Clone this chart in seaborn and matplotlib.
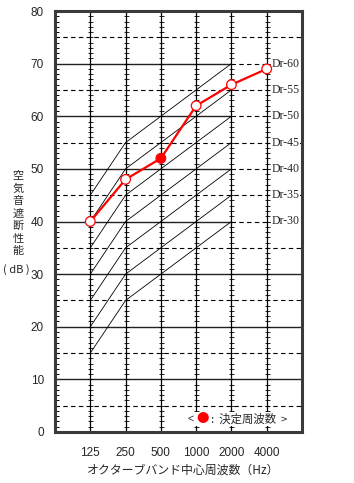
import numpy as np
import pandas as pd
import matplotlib
matplotlib.use("Agg")
import matplotlib.pyplot as plt
import seaborn as sns
from matplotlib.ticker import MultipleLocator
from matplotlib.patches import Rectangle

# ---- data ----
freqs = ["125", "250", "500", "1000", "2000", "4000"]
tl_values = [40, 48, 52, 62, 66, 69]
decided = [False, False, True, False, False, False]
dr_grades = [30, 35, 40, 45, 50, 55, 60]
dr_offsets = [-15, -5, 0, 5, 10]          # 125..2000 Hz relative to grade
y_ticks = [0, 10, 20, 30, 40, 50, 60, 70, 80]

sns.set_style("white")
plt.rcParams["font.family"] = ["Noto Sans CJK JP", "DejaVu Sans"]

W, H = 354, 483
fig = plt.figure(figsize=(W / 100, H / 100), dpi=100)
ax = fig.add_axes([55 / W, 1 - 432 / H, 247 / W, 421 / H])
xpos = np.arange(len(freqs))
ax.set_xlim(-1, 6)
ax.set_ylim(0, 80)

dash = (0, (4, 3))
# horizontal grid
for y in range(5, 80, 10):
    ax.axhline(y, ls=dash, lw=0.8, color="black", zorder=1)
for y in [10, 20, 30]:
    ax.axhline(y, lw=1.0, color="#222222", zorder=1)
for y in [40, 50, 60, 70]:
    ax.plot([-1, 4], [y, y], lw=1.0, color="#222222", zorder=1)
    ax.plot([4, 6], [y, y], ls=dash, lw=0.8, color="black", zorder=1)

# vertical ruler lines
ruler = np.arange(0, 81)
for i in xpos:
    ax.axvline(i, color="black", lw=0.9, zorder=2)
    ax.plot(np.full(len(ruler), i), ruler, ls="none", marker="_", ms=3.6,
            mew=0.6, color="black", zorder=2)

# Dr curves
dr_rows = []
for g in dr_grades:
    for k, off in enumerate(dr_offsets):
        dr_rows.append({"grade": g, "pos": k, "val": g + off})
dr_df = pd.DataFrame(dr_rows)
sns.lineplot(data=dr_df, x="pos", y="val", units="grade", estimator=None,
             color="black", lw=0.6, ax=ax, zorder=2, legend=False)
for g in dr_grades:
    ax.text(5.14, g + 10, f"Dr-{g}", fontfamily=["Liberation Serif"], fontsize=8.5,
            ha="left", va="center", zorder=4,
            bbox=dict(fc="white", ec="none", pad=0.6))

# measured curve
df = pd.DataFrame({"pos": xpos, "tl": tl_values, "decided": decided})
sns.lineplot(data=df, x="pos", y="tl", color="red", lw=1.6, ax=ax, zorder=5)
face = ["red" if d else "white" for d in decided]
ax.scatter(df["pos"], df["tl"], s=48, facecolors=face, edgecolors="red",
           linewidths=0.9, zorder=6)

# legend box
ax.add_patch(Rectangle((2.72, 1.2), 3.02, 2.6, fc="white", ec="none", zorder=3))
ax.text(2.83, 2.5, "<", fontsize=7.5, ha="center", va="center", zorder=6,
        fontfamily=["Liberation Sans"])
ax.text(3.19, 2.5, "●", fontsize=9, color="red", ha="center", va="center", zorder=6)
ax.text(3.42, 2.5, ":  決定周波数  >", fontsize=8.2, ha="left", va="center", zorder=6)

# axes styling
for s in ax.spines.values():
    s.set_linewidth(2.2)
    s.set_color("#3a3a3a")
ax.set_yticks(y_ticks)
ax.yaxis.set_minor_locator(MultipleLocator(1))
ax.tick_params(axis="y", which="both", direction="in", length=3, width=0.7,
               left=True, right=False, color="black", pad=8)
ax.set_xticks(xpos)
ax.set_xticklabels(freqs)
ax.tick_params(axis="x", which="both", length=0, pad=11, bottom=False)
for lab in ax.get_xticklabels() + ax.get_yticklabels():
    lab.set_fontfamily(["Liberation Sans"])
    lab.set_fontsize(8.5)
ax.set_xlabel("")
ax.set_ylabel("")

fig.text(183.5 / W, 1 - 470 / H, "オクターブバンド中心周波数（Hz）", fontsize=8.6,
         ha="center", va="center")
fig.text(18 / W, 1 - 213.5 / H, "空\n気\n音\n遮\n断\n性\n能", fontsize=8,
         ha="center", va="center", linespacing=1.3)
fig.text(16 / W, 1 - 270 / H, "( dB )", fontsize=8, ha="center", va="center")

fig.savefig("out.png", dpi=100)
